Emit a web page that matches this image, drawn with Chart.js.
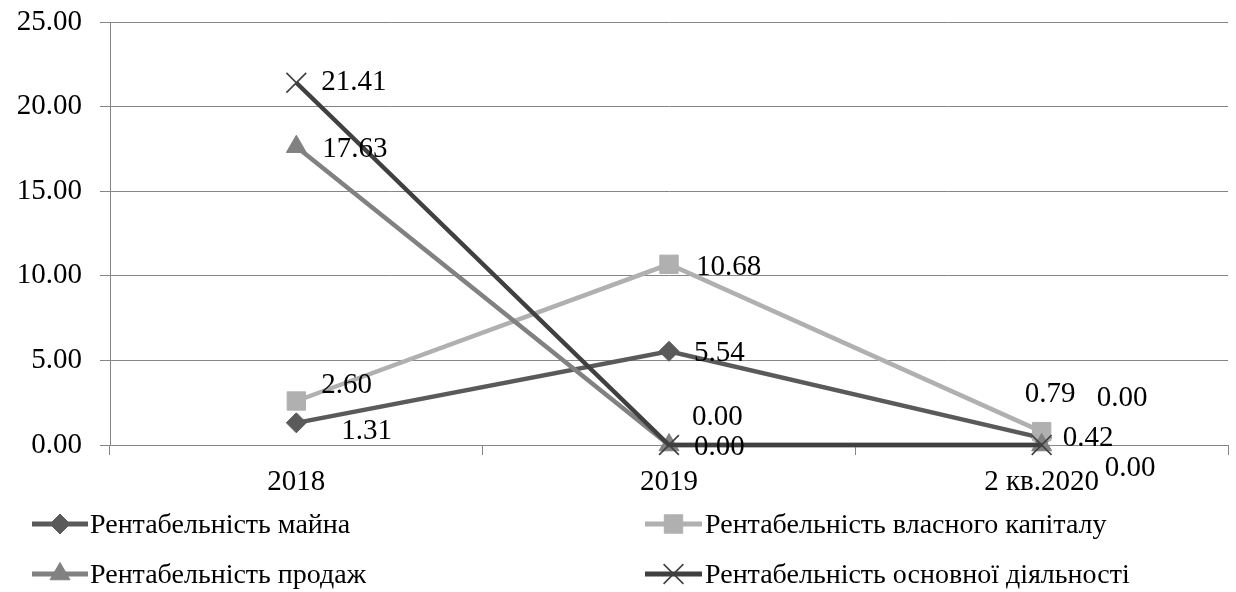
<!DOCTYPE html>
<html>
<head>
<meta charset="utf-8">
<script src="https://cdn.jsdelivr.net/npm/chart.js@4/dist/chart.umd.min.js"></script>
<style>
  html, body { margin: 0; padding: 0; background: #fff; overflow: hidden; }
  #wrap { width: 1236px; height: 592px; }
  canvas { display: block; }
</style>
</head>
<body>
<div id="wrap"><canvas id="c" width="1236" height="592"></canvas></div>
<script>
// Categories and series values
const categories = ['2018', '2019', '2 кв.2020'];
const assetReturn = [1.31, 5.54, 0.42];      // Рентабельність майна
const equityReturn = [2.60, 10.68, 0.79];    // Рентабельність власного капіталу
const salesReturn = [17.63, 0.00, 0.00];     // Рентабельність продаж
const operReturn = [21.41, 0.00, 0.00];      // Рентабельність основної діяльності
const seriesNames = [
  'Рентабельність майна',
  'Рентабельність власного капіталу',
  'Рентабельність продаж',
  'Рентабельність основної діяльності'
];
const yTicks = [0, 5, 10, 15, 20, 25];

const FONT = "'Liberation Serif', 'Times New Roman', serif";
const FS = 29;        // axis and value labels
const FS_LEGEND = 28; // legend entries

// Where each value label sits relative to its point (text left edge, vertical middle)
const labelShift = [
  [[45, 9], [25, 2], [21, 0]],
  [[25, -16], [27, 3], [-17, -37]],
  [[26, 3], [23, -28], [55, -47]],
  [[25, 0], [25, 2], [63, 23]]
];

const styles = [
  { color: '#5a5a5a', point: 'rectRot', radius: 10, order: 4 },
  { color: '#b0b0b0', point: 'rect', radius: 13, order: 3 },
  { color: '#818181', point: 'triangle', radius: 11.5, order: 2 },
  { color: '#404040', point: 'crossRot', radius: 14, order: 1 }
];
const values = [assetReturn, equityReturn, salesReturn, operReturn];

const datasets = values.map((vals, i) => ({
  label: seriesNames[i],
  data: vals,
  borderColor: styles[i].color,
  backgroundColor: styles[i].color,
  borderWidth: 4.5,
  pointStyle: styles[i].point,
  pointRadius: styles[i].radius,
  pointHoverRadius: styles[i].radius,
  pointBorderWidth: styles[i].point === 'crossRot' ? 1.6 : 1,
  pointBorderColor: styles[i].color,
  pointBackgroundColor: styles[i].color,
  tension: 0,
  clip: false,
  order: styles[i].order
}));

const valueLabels = {
  id: 'valueLabels',
  afterDatasetsDraw(chart) {
    const ctx = chart.ctx;
    ctx.save();
    ctx.font = FS + 'px ' + FONT;
    ctx.fillStyle = '#000';
    ctx.textAlign = 'left';
    ctx.textBaseline = 'middle';
    chart.data.datasets.forEach((ds, i) => {
      const meta = chart.getDatasetMeta(i);
      meta.data.forEach((pt, j) => {
        const s = labelShift[i][j];
        ctx.fillText(ds.data[j].toFixed(2), pt.x + s[0], pt.y + s[1]);
      });
    });
    ctx.restore();
  }
};

// Two-column legend below the axis
const legendRows = {
  id: 'legendRows',
  afterDraw(chart) {
    const ctx = chart.ctx;
    const slots = [
      { x0: 32, x1: 88, tx: 90, y: 524 },
      { x0: 645, x1: 702, tx: 705, y: 524 },
      { x0: 32, x1: 88, tx: 90, y: 574 },
      { x0: 645, x1: 702, tx: 705, y: 574 }
    ];
    chart.data.datasets.forEach((ds, i) => {
      const s = slots[i];
      ctx.save();
      ctx.strokeStyle = ds.borderColor;
      ctx.lineWidth = 5;
      ctx.beginPath();
      ctx.moveTo(s.x0, s.y);
      ctx.lineTo(s.x1, s.y);
      ctx.stroke();
      ctx.fillStyle = ds.pointBackgroundColor;
      ctx.strokeStyle = ds.pointBorderColor;
      ctx.lineWidth = ds.pointBorderWidth;
      Chart.helpers.drawPoint(ctx, {
        pointStyle: ds.pointStyle,
        radius: ds.pointRadius,
        rotation: 0,
        borderWidth: ds.pointBorderWidth
      }, (s.x0 + s.x1) / 2, s.y);
      ctx.fillStyle = '#000';
      ctx.font = FS_LEGEND + 'px ' + FONT;
      ctx.textAlign = 'left';
      ctx.textBaseline = 'middle';
      ctx.fillText(ds.label, s.tx, s.y + 2);
      ctx.restore();
    });
  }
};

// Plot edges are fixed by layout padding alone, not by tick label overflow
const noOverflow = () => ({ left: 0, top: 0, right: 0, bottom: 0 });

new Chart(document.getElementById('c'), {
  type: 'line',
  data: { labels: categories, datasets },
  options: {
    responsive: false,
    animation: false,
    events: [],
    layout: { autoPadding: false, padding: { top: 22, right: 8, bottom: 92, left: 0 } },
    plugins: { legend: { display: false }, tooltip: { enabled: false } },
    scales: {
      x: {
        offset: true,
        grid: {
          offset: true,
          drawOnChartArea: false,
          drawTicks: true,
          tickLength: 10,
          color: '#868686'
        },
        border: { color: '#868686', width: 1 },
        ticks: {
          color: '#000',
          font: { family: FONT, size: FS },
          padding: 10,
          maxRotation: 0
        },
        afterFit(scale) {
          scale.height = 55;
          scale.paddingLeft = 0;
          scale.paddingRight = 0;
          scale.getPadding = noOverflow;
        }
      },
      y: {
        min: 0,
        max: 25,
        afterBuildTicks(scale) { scale.ticks = yTicks.map(v => ({ value: v })); },
        grid: { color: '#868686', tickLength: 10, lineWidth: 1 },
        border: { color: '#868686', width: 1 },
        ticks: {
          color: '#000',
          font: { family: FONT, size: FS },
          padding: 18,
          callback: v => Number(v).toFixed(2)
        },
        afterFit(scale) {
          scale.width = 110;
          scale.paddingTop = 0;
          scale.paddingBottom = 0;
          scale.getPadding = noOverflow;
        }
      }
    }
  },
  plugins: [valueLabels, legendRows]
});
</script>
</body>
</html>
